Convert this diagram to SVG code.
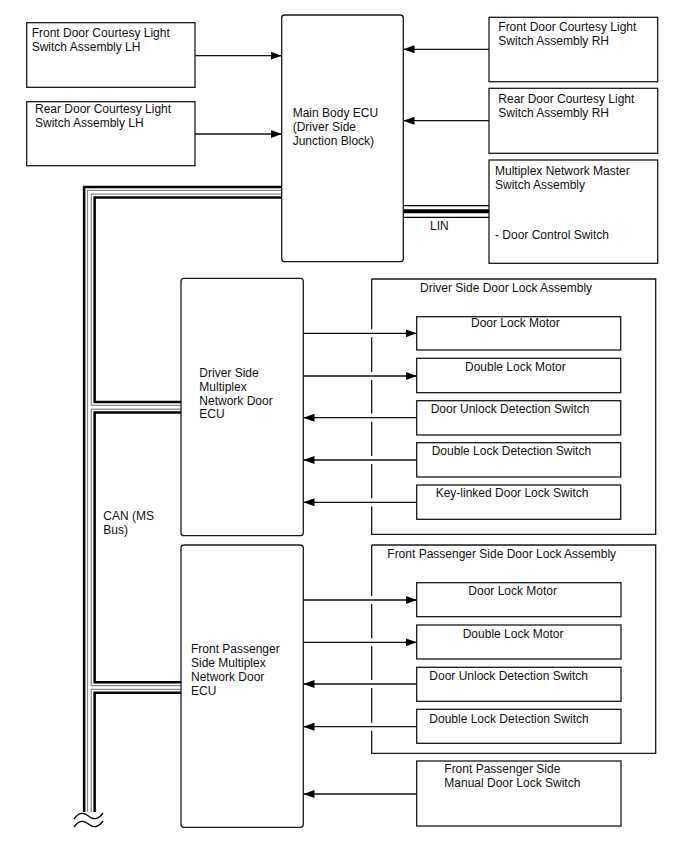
<svg xmlns="http://www.w3.org/2000/svg" width="688" height="852" viewBox="0 0 688 852">
<style>
  .box{fill:#fff;stroke:#1a1a1a;stroke-width:1.3}
  .cont{fill:none;stroke:#1a1a1a;stroke-width:1.3}
  .t{font-family:"Liberation Sans",Arial,sans-serif;font-size:12px;fill:#111}
  .ar{stroke:#111;stroke-width:1.3;fill:none;marker-end:url(#ah)}
  .busB{fill:none;stroke:#000;stroke-width:13;stroke-linejoin:miter}
  .busW{fill:none;stroke:#fff;stroke-width:8;stroke-linejoin:miter}
  .busG{fill:none;stroke:#8a8a8a;stroke-width:5;stroke-linejoin:miter}
  .busC{fill:none;stroke:#fff;stroke-width:2.6;stroke-linejoin:miter}
</style>
<defs>
  <marker id="ah" markerUnits="userSpaceOnUse" markerWidth="11" markerHeight="8" refX="11" refY="4" orient="auto">
    <path d="M0,0 L11,4 L0,8 Z" fill="#000"/>
  </marker>
</defs>
<rect width="688" height="852" fill="#fff"/>

<g id="connectors">
  <!-- CAN bus -->
  <g id="can-bus">
    <path class="busB" d="M282,192.2 H89.4 V812"/>
    <path class="busB" d="M89.4,407.3 H181"/>
    <path class="busB" d="M89.4,687.5 H181"/>
    <path class="busW" d="M282,192.2 H89.4 V812"/>
    <path class="busW" d="M89.4,407.3 H181"/>
    <path class="busW" d="M89.4,687.5 H181"/>
    <path class="busG" d="M282,192.2 H89.4 V812"/>
    <path class="busG" d="M89.4,407.3 H181"/>
    <path class="busG" d="M89.4,687.5 H181"/>
    <path class="busC" d="M282,192.2 H89.4 V812"/>
    <path class="busC" d="M89.4,407.3 H181"/>
    <path class="busC" d="M89.4,687.5 H181"/>
    <path d="M74,819 C79,812 84,812 88.5,816 C93,820 98,820 103,813" fill="none" stroke="#000" stroke-width="1.3"/>
    <path d="M74,827 C79,820 84,820 88.5,824 C93,828 98,828 103,821" fill="none" stroke="#000" stroke-width="1.3"/>
  </g>
  <!-- LIN bus -->
  <g id="lin-bus">
    <line x1="403" y1="205.7" x2="489" y2="205.7" stroke="#000" stroke-width="1.2"/>
    <line x1="403" y1="211.3" x2="489" y2="211.3" stroke="#000" stroke-width="4"/>
    <line x1="403" y1="217.3" x2="489" y2="217.3" stroke="#000" stroke-width="1.2"/>
  </g>
  <!-- top arrows -->
  <line class="ar" x1="195" y1="55.7" x2="281.7" y2="55.7"/>
  <line class="ar" x1="195" y1="134" x2="281.7" y2="134"/>
  <line class="ar" x1="489" y1="49.3" x2="403.5" y2="49.3"/>
  <line class="ar" x1="489" y1="120.7" x2="403.5" y2="120.7"/>
  <!-- driver side -->
  <line class="ar" x1="303.3" y1="333.3" x2="416.7" y2="333.3"/>
  <line class="ar" x1="303.3" y1="376" x2="416.7" y2="376"/>
  <line class="ar" x1="416.7" y1="417.7" x2="303.5" y2="417.7"/>
  <line class="ar" x1="416.7" y1="460" x2="303.5" y2="460"/>
  <line class="ar" x1="416.7" y1="502.3" x2="303.5" y2="502.3"/>
  <!-- passenger side -->
  <line class="ar" x1="303.3" y1="600" x2="416.7" y2="600"/>
  <line class="ar" x1="303.3" y1="642.3" x2="416.7" y2="642.3"/>
  <line class="ar" x1="416.7" y1="684" x2="303.5" y2="684"/>
  <line class="ar" x1="416.7" y1="726.7" x2="303.5" y2="726.7"/>
  <line class="ar" x1="416.7" y1="794" x2="303.5" y2="794"/>
</g>

<text class="t" x="430" y="230">LIN</text>
<text class="t" x="103.3" y="520">CAN (MS</text>
<text class="t" x="103.3" y="534">Bus)</text>

<g id="front-door-lh">
  <rect class="box" x="26.7" y="22.7" width="168.3" height="64.6"/>
  <text class="t" x="31.7" y="37">Front Door Courtesy Light</text>
  <text class="t" x="31.7" y="51">Switch Assembly LH</text>
</g>
<g id="rear-door-lh">
  <rect class="box" x="26.7" y="101.7" width="168.3" height="64"/>
  <text class="t" x="35" y="113">Rear Door Courtesy Light</text>
  <text class="t" x="35" y="127">Switch Assembly LH</text>
</g>
<g id="main-body-ecu">
  <rect class="box" x="281.7" y="15" width="121.6" height="246.7" rx="3"/>
  <text class="t" x="292.7" y="117.3">Main Body ECU</text>
  <text class="t" x="292.7" y="131.3">(Driver Side</text>
  <text class="t" x="292.7" y="145.3">Junction Block)</text>
</g>
<g id="front-door-rh">
  <rect class="box" x="489" y="17.3" width="168.7" height="64.4"/>
  <text class="t" x="498.3" y="30.7">Front Door Courtesy Light</text>
  <text class="t" x="498.3" y="45">Switch Assembly RH</text>
</g>
<g id="rear-door-rh">
  <rect class="box" x="489" y="88.3" width="168.7" height="65"/>
  <text class="t" x="498.3" y="102.7">Rear Door Courtesy Light</text>
  <text class="t" x="498.3" y="116.7">Switch Assembly RH</text>
</g>
<g id="master-switch">
  <rect class="box" x="489" y="160" width="168.7" height="103.3"/>
  <text class="t" x="495" y="175">Multiplex Network Master</text>
  <text class="t" x="495" y="188.7">Switch Assembly</text>
  <text class="t" x="495" y="239">- Door Control Switch</text>
</g>

<g id="driver-ecu">
  <rect class="box" x="181" y="278.3" width="122.3" height="257.4" rx="3"/>
  <text class="t" x="199.3" y="376.7">Driver Side</text>
  <text class="t" x="199.3" y="390.7">Multiplex</text>
  <text class="t" x="199.3" y="404.5">Network Door</text>
  <text class="t" x="199.3" y="418.3">ECU</text>
</g>
<g id="driver-lock-assembly">
  <path class="cont" d="M371.7,279 H655.7 V534.3 H371.7 V506.3 M371.7,498.3 V464 M371.7,456 V421.7 M371.7,413.7 V380 M371.7,372 V337.3 M371.7,329.3 V279"/>
  <text class="t" x="420" y="291.7">Driver Side Door Lock Assembly</text>
</g>
<g id="d-door-lock-motor">
  <rect class="box" x="416.7" y="316.7" width="204" height="33.3"/>
  <text class="t" x="471" y="327.3">Door Lock Motor</text>
</g>
<g id="d-double-lock-motor">
  <rect class="box" x="416.7" y="358.3" width="204" height="34.4"/>
  <text class="t" x="465" y="370.7">Double Lock Motor</text>
</g>
<g id="d-door-unlock-switch">
  <rect class="box" x="416.7" y="400.7" width="204" height="34.3"/>
  <text class="t" x="430.7" y="413.3">Door Unlock Detection Switch</text>
</g>
<g id="d-double-lock-switch">
  <rect class="box" x="416.7" y="442.7" width="204" height="34.3"/>
  <text class="t" x="431.7" y="455">Double Lock Detection Switch</text>
</g>
<g id="d-key-linked-switch">
  <rect class="box" x="416.7" y="485" width="204" height="34.3"/>
  <text class="t" x="435.7" y="497.3">Key-linked Door Lock Switch</text>
</g>

<g id="passenger-ecu">
  <rect class="box" x="181" y="545" width="122.3" height="282.3" rx="3"/>
  <text class="t" x="191" y="653.3">Front Passenger</text>
  <text class="t" x="191" y="667.3">Side Multiplex</text>
  <text class="t" x="191" y="681">Network Door</text>
  <text class="t" x="191" y="694.5">ECU</text>
</g>
<g id="passenger-lock-assembly">
  <path class="cont" d="M371.7,545 H655.7 V753.3 H371.7 V730.7 M371.7,722.7 V688 M371.7,680 V646.3 M371.7,638.3 V604 M371.7,596 V545"/>
  <text class="t" x="387.3" y="558.3">Front Passenger Side Door Lock Assembly</text>
</g>
<g id="p-door-lock-motor">
  <rect class="box" x="416.7" y="582.7" width="204.3" height="34"/>
  <text class="t" x="468.3" y="595">Door Lock Motor</text>
</g>
<g id="p-double-lock-motor">
  <rect class="box" x="416.7" y="625" width="204.3" height="34"/>
  <text class="t" x="462.7" y="637.7">Double Lock Motor</text>
</g>
<g id="p-door-unlock-switch">
  <rect class="box" x="416.7" y="667.3" width="204.3" height="34"/>
  <text class="t" x="429.3" y="680">Door Unlock Detection Switch</text>
</g>
<g id="p-double-lock-switch">
  <rect class="box" x="416.7" y="709.3" width="204.3" height="34"/>
  <text class="t" x="429.3" y="722.7">Double Lock Detection Switch</text>
</g>
<g id="p-manual-switch">
  <rect class="box" x="416.7" y="761" width="204.3" height="65"/>
  <text class="t" x="444.3" y="772.7">Front Passenger Side</text>
  <text class="t" x="444.3" y="786.7">Manual Door Lock Switch</text>
</g>
</svg>
